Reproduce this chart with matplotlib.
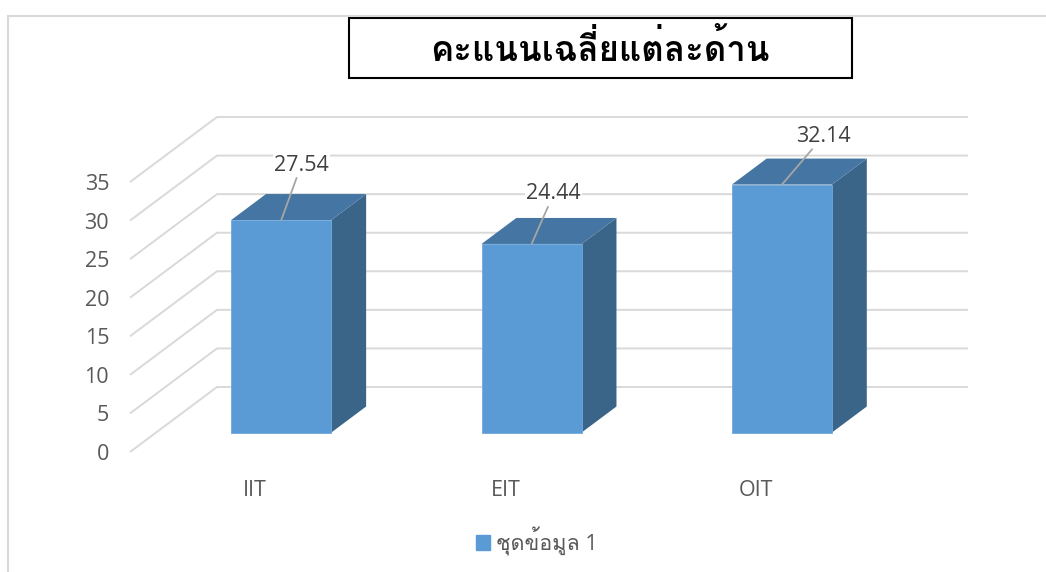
import matplotlib
matplotlib.use('Agg')
import matplotlib.pyplot as plt
from matplotlib.patches import Polygon, Rectangle, Patch
from matplotlib import font_manager
from matplotlib.ft2font import FT2Font

categories = ['IIT', 'EIT', 'OIT']
scores = [27.54, 24.44, 32.14]
series_name = 'ชุดข้อมูล 1'
title = 'คะแนนเฉลี่ยแต่ละด้าน'
y_ticks = [0, 5, 10, 15, 20, 25, 30, 35]


# find an installed font that has Thai glyphs
def find_thai_font():
    for f in font_manager.fontManager.ttflist:
        try:
            if ord('ค') in FT2Font(f.fname).get_charmap():
                return f.name
        except Exception:
            pass
    return None


thai = find_thai_font()
families = ['Open Sans', thai, 'DejaVu Sans'] if thai else ['Open Sans', 'DejaVu Sans']
plt.rcParams['font.family'] = families

W, H = 1046, 572
fig = plt.figure(figsize=(W / 100, H / 100), dpi=100)

# front plane of the plot area
ax = fig.add_axes([130 / W, 1 - 452 / H, (881 - 130) / W, (452 - 182) / H])
ax.set_xlim(-0.5, len(categories) - 0.5)
ax.set_ylim(0, 35)
for s in ax.spines.values():
    s.set_visible(False)

# depth of the 3D box in data units
DX = 87 / (751 / len(categories))
DY = 65 / (270 / 35)


def proj(x, y, d):
    return (x + d * DX, y + d * DY)


x_lo, x_hi = -0.5, len(categories) - 0.5

# walls / gridlines
for v in y_ticks:
    pts = [proj(x_lo, v, 0), proj(x_lo, v, 1), proj(x_hi, v, 1)]
    ax.plot([p[0] for p in pts], [p[1] for p in pts], color='#D9D9D9',
            lw=1.4, clip_on=False, zorder=1, solid_capstyle='butt')

# bars
bw = 0.2
d0, d1 = 0.3, 0.7
label_offsets = [(20, 55), (22, 50), (41, 48)]
for i, v in enumerate(scores):
    x0, x1 = i - bw, i + bw
    front = [proj(x0, 0, d0), proj(x1, 0, d0), proj(x1, v, d0), proj(x0, v, d0)]
    side = [proj(x1, 0, d0), proj(x1, 0, d1), proj(x1, v, d1), proj(x1, v, d0)]
    top = [proj(x0, v, d0), proj(x1, v, d0), proj(x1, v, d1), proj(x0, v, d1)]
    ax.add_patch(Polygon(side, closed=True, fc='#3A6589', ec='none', zorder=2, clip_on=False))
    ax.add_patch(Polygon(top, closed=True, fc='#4575A2', ec='none', zorder=2, clip_on=False))
    ax.add_patch(Polygon(front, closed=True, fc='#5B9BD5', ec='#6FA8DC', lw=0.6, zorder=3, clip_on=False))
    ax.annotate(f'{v:.2f}', xy=proj(i, v, d0), xytext=label_offsets[i],
                textcoords='offset pixels', ha='center', va='center',
                fontsize=15.5, color='#404040', zorder=5,
                bbox=dict(boxstyle='square,pad=0.05', fc='white', ec='none'),
                arrowprops=dict(arrowstyle='-', color='#A6A6A6', lw=1.3,
                                shrinkA=1, shrinkB=0))

ax.set_xticks(range(len(categories)))
ax.set_xticklabels(categories)
ax.set_yticks(y_ticks)
ax.tick_params(axis='x', length=0, pad=20, labelsize=15.5, labelcolor='#595959')
ax.tick_params(axis='y', length=0, pad=15, labelsize=15.5, labelcolor='#595959')

# legend
fig.legend(handles=[Patch(color='#5B9BD5')], labels=[series_name], loc='center',
           bbox_to_anchor=(537 / W, 1 - 541 / H), frameon=False,
           handlelength=0.65, handleheight=0.65, handletextpad=0.3,
           fontsize=15.5, labelcolor='#595959')

# title box
fig.add_artist(Rectangle((349 / W, 1 - 78 / H), (852 - 349) / W, 60 / H,
                         transform=fig.transFigure, fill=False, ec='black', lw=1.5))
fig.text(600 / W, 1 - 51 / H, title, ha='center', va='center', fontsize=25,
         fontweight='bold', color='black')

# chart area frame (cut by the picture edge)
fig.add_artist(Rectangle((7.5 / W, -0.5), 2, 1.5 - 15.5 / H, transform=fig.transFigure,
                         fill=False, ec='#D9D9D9', lw=1.5))

fig.savefig('out.png', dpi=100)
